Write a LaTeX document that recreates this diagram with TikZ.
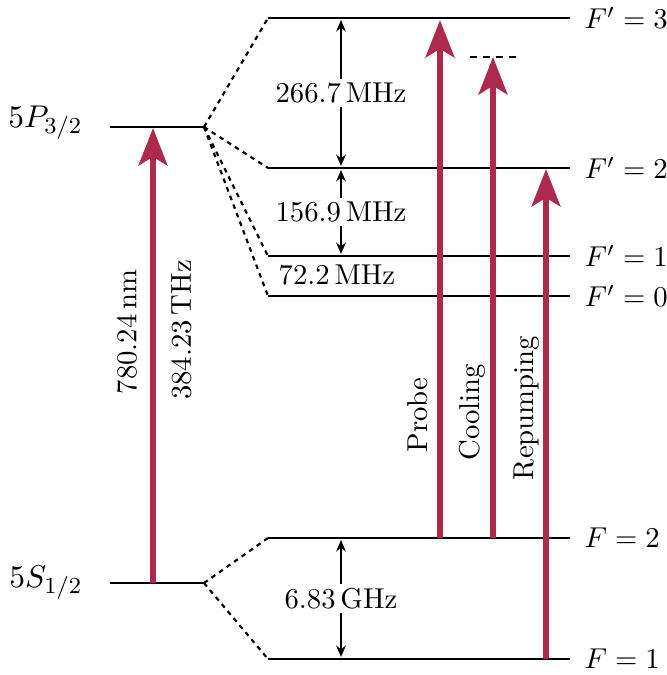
\documentclass[tikz,border=0pt]{standalone}
\usetikzlibrary{arrows.meta}
\definecolor{laser}{RGB}{174,42,76}
\begin{document}
\begin{tikzpicture}[x=0.348pt,y=-0.348pt,
  level/.style={line width=0.75pt},
  split/.style={line width=0.75pt,dash pattern=on 1.6pt off 1.6pt},
  beam/.style={laser,line width=2.1pt,-{Stealth[length=13pt,width=10pt,inset=3pt]}},
  gap/.style={line width=0.6pt,{Stealth[length=4pt,width=3.4pt]}-{Stealth[length=4pt,width=3.4pt]}},
  gaplabel/.style={fill=white,inner sep=1.5pt},
  lbl/.style={inner sep=0pt},
  biglbl/.style={inner sep=0pt,font=\fontsize{11}{13}\selectfont}]
\useasboundingbox (0,0) rectangle (667,675);
% fine levels
\coordinate (P3a) at (268,18);  \coordinate (P3b) at (570,18);
\coordinate (P2a) at (268,168); \coordinate (P2b) at (570,168);
\coordinate (P1a) at (268,256); \coordinate (P1b) at (570,256);
\coordinate (P0a) at (268,296); \coordinate (P0b) at (570,296);
\coordinate (S2a) at (268,538); \coordinate (S2b) at (570,538);
\coordinate (S1a) at (268,659); \coordinate (S1b) at (570,659);
% main levels
\coordinate (Pa) at (110,127); \coordinate (Pb) at (204,127);
\coordinate (Sa) at (110,583); \coordinate (Sb) at (204,583);
\foreach \n in {P3,P2,P1,P0,S2,S1} \draw[level] (\n a) -- (\n b);
\draw[level] (Pa) -- (Pb);
\draw[level] (Sa) -- (Sb);
% splitting
\foreach \n in {P3,P2,P1,P0} \draw[split] (Pb) -- (\n a);
\foreach \n in {S2,S1} \draw[split] (Sb) -- (\n a);
% labels
\node[biglbl,anchor=base east] (lP) at (83,127) {$5P_{3/2}$};
\node[biglbl,anchor=base east] (lS) at (83,587) {$5S_{1/2}$};
\node[lbl,anchor=west] (l3) at (584,18)  {$F'=3$};
\node[lbl,anchor=west] (l2) at (584,168) {$F'=2$};
\node[lbl,anchor=west] (l1) at (584,256) {$F'=1$};
\node[lbl,anchor=west] (l0) at (584,296) {$F'=0$};
\node[lbl,anchor=west] (lf2) at (584,538) {$F=2$};
\node[lbl,anchor=west] (lf1) at (584,659) {$F=1$};
% gaps
\coordinate (g3) at (341,20); \coordinate (g2u) at (341,166);
\coordinate (g2d) at (341,170); \coordinate (g1) at (341,254);
\coordinate (gs2) at (341,540); \coordinate (gs1) at (341,657);
\draw[gap] (g3) -- node[gaplabel] (t1) {$266.7\,\mathrm{MHz}$} (g2u);
\draw[gap] (g2d) -- node[gaplabel] (t2) {$156.9\,\mathrm{MHz}$} (g1);
\node (t3) at (337,275) {$72.2\,\mathrm{MHz}$};
\draw[gap] (gs2) -- node[gaplabel] (t4) {$6.83\,\mathrm{GHz}$} (gs1);
% beams
\coordinate (b0s) at (153,583); \coordinate (b0e) at (153,128);
\coordinate (b1s) at (440,538); \coordinate (b1e) at (440,20);
\coordinate (b2s) at (493,538); \coordinate (b2e) at (493,57);
\coordinate (b3s) at (546,659); \coordinate (b3e) at (546,169);
\draw[beam] (b0s) -- (b0e);
\draw[beam] (b1s) -- (b1e);
\draw[beam] (b2s) -- (b2e);
\draw[beam] (b3s) -- (b3e);
\coordinate (da) at (470,57); \coordinate (db) at (518,57);
\draw[line width=0.7pt,dash pattern=on 2.5pt off 2pt] (da) -- (db);
% beam labels
\node[rotate=90] (w1) at (127,332) {$780.24\,\mathrm{nm}$};
\node[rotate=90] (w2) at (181,330) {$384.23\,\mathrm{THz}$};
\node[rotate=90] (w3) at (418,415) {Probe};
\node[rotate=90] (w4) at (472,412) {Cooling};
\node[rotate=90] (w5) at (527,408) {Repumping};
\end{tikzpicture}
\end{document}
